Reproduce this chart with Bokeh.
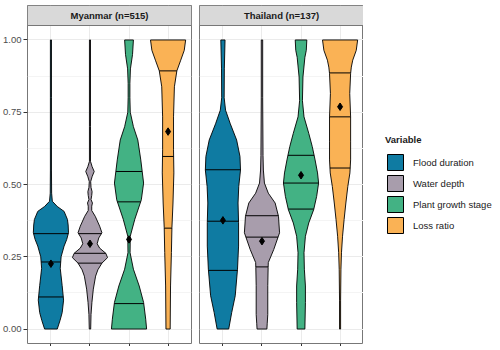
import numpy as np
from bokeh.plotting import figure
from bokeh.models import Range1d, FixedTicker, Legend, LegendItem, NumeralTickFormatter
from bokeh.layouts import row
from bokeh.core.properties import value
from bokeh.embed import file_html
from bokeh.resources import INLINE

# ---------------- data ----------------
variables = ["Flood duration", "Water depth", "Plant growth stage", "Loss ratio"]
colors = ["#0F7BA2", "#A89DAC", "#43B284", "#FAB255"]
facets = ["Myanmar (n=515)", "Thailand (n=137)"]
y_ticks = [0.0, 0.25, 0.5, 0.75, 1.0]
y_minor = [0.125, 0.375, 0.625, 0.875]

# Myanmar: violin density profiles (value level, relative width)
mya_flood_y = [0, .03, .057, .10, .15, .21, .25, .287, .31, .333, .36, .379, .407, .424, .442, .47, .55, .8, 1.0]
mya_flood_w = [.36, .52, .64, .72, .64, .53, .58, .75, .9, 1.0, .98, .94, .75, .36, .08, .04, .03, .03, .03]
mya_water_y = [0, .05, .092, .138, .183, .205, .228, .247, .262, .28, .295, .315, .333, .356, .39, .41, .425, .436,
               .448, .462, .475, .49, .51, .527, .545, .562, .58, .7, 1.0]
mya_water_w = [.04, .06, .11, .19, .32, .45, .68, 1.0, .9, .55, .41, .5, .68, .55, .3, .1, .1, .14,
               .06, .1, .12, .06, .04, .12, .24, .12, .03, .03, .03]
mya_plant_y = [0, .034, .092, .149, .207, .264, .321, .38, .447, .505, .545, .585, .654, .7, .75, .8, .85, .9, .95, 1.0]
mya_plant_w = [1.0, .95, .83, .58, .25, .06, .07, .33, .7, .83, .75, .67, .5, .25, .07, .05, .05, .08, .2, .25]
mya_loss_y = [0, .149, .265, .351, .436, .54, .62, .734, .838, .893, .93, .964, 1.0]
mya_loss_w = [.12, .14, .19, .22, .28, .33, .31, .31, .36, .5, .72, .92, 1.0]
mya_quantiles = [[0.111, 0.232, 0.330], [0.228, 0.262, 0.330], [0.088, 0.440, 0.545], [0.349, 0.597, 0.893]]
mya_means = [0.226, 0.295, 0.310, 0.683]

# Thailand
tha_flood_y = [0, .057, .115, .207, .287, .368, .436, .493, .55, .597, .654, .71, .757, .8, .9, 1.0]
tha_flood_w = [.33, .5, .7, .83, .89, .89, .86, .9, 1.0, .97, .78, .42, .15, .07, .08, .12]
tha_water_y = [0, .02, .05, .15, .213, .23, .275, .333, .39, .436, .47, .505, .55, .6, .8, 1.0]
tha_water_w = [.28, .3, .33, .33, .35, .36, .67, 1.0, .94, .75, .36, .14, .08, .06, .04, .04]
tha_plant_y = [0, .092, .149, .207, .264, .321, .367, .413, .459, .505, .54, .585, .631, .677, .734, .79, .872, .94, .964, 1.0]
tha_plant_w = [.22, .25, .25, .19, .17, .25, .44, .72, .89, 1.0, .94, .8, .64, .44, .17, .08, .11, .22, .3, .33]
tha_loss_y = [0, .1, .207, .264, .321, .379, .436, .493, .54, .585, .65, .734, .815, .884, .906, .93, .964, 1.0]
tha_loss_w = [.03, .03, .05, .08, .14, .23, .33, .44, .56, .6, .6, .6, .55, .6, .64, .72, .92, 1.0]
tha_quantiles = [[0.203, 0.373, 0.551], [0.215, 0.318, 0.392], [0.415, 0.505, 0.601], [0.557, 0.734, 0.886]]
tha_means = [0.376, 0.304, 0.532, 0.769]

mya_profiles = [(mya_flood_y, mya_flood_w), (mya_water_y, mya_water_w),
                (mya_plant_y, mya_plant_w), (mya_loss_y, mya_loss_w)]
tha_profiles = [(tha_flood_y, tha_flood_w), (tha_water_y, tha_water_w),
                (tha_plant_y, tha_plant_w), (tha_loss_y, tha_loss_w)]

# ---------------- styling ----------------
FONT = "Liberation Sans"
FS = "9.5px"
FRAME_W = 164
FRAME_H = 338
TOP = 5
STRIP_PX = 20
BORDER = "#777777"
HALF = 0.45


def make_panel(title, profiles, quantiles, means, show_y):
    panel_px = FRAME_H - STRIP_PX
    y_top = 1.05
    y_end = y_top + STRIP_PX * 1.1 / panel_px
    p = figure(frame_width=FRAME_W, frame_height=FRAME_H,
               x_range=Range1d(0.4, 4.6), y_range=Range1d(-0.05, y_end),
               output_backend="svg", toolbar_location=None, title=None,
               min_border_top=TOP, min_border_bottom=0,
               min_border_left=0 if show_y else 4, min_border_right=4 if show_y else 0)
    p.background_fill_color = "white"
    p.border_fill_color = "white"
    p.outline_line_color = BORDER
    p.outline_line_width = 1

    p.xgrid.ticker = FixedTicker(ticks=[1, 2, 3, 4])
    p.xgrid.grid_line_color = "#EBEBEB"
    p.ygrid.ticker = FixedTicker(ticks=y_ticks, minor_ticks=y_minor)
    p.ygrid.grid_line_color = "#EBEBEB"
    p.ygrid.minor_grid_line_color = "#F4F4F4"

    p.xaxis.ticker = FixedTicker(ticks=[1, 2, 3, 4])
    p.xaxis.major_label_text_font_size = "1px"
    p.xaxis.major_label_text_color = None
    p.xaxis.major_label_standoff = 0
    p.xaxis.major_tick_out = 3
    p.xaxis.major_tick_in = 0
    p.xaxis.minor_tick_line_color = None
    p.xaxis.axis_line_color = None
    p.xaxis.major_tick_line_color = "#333333"

    p.yaxis.ticker = FixedTicker(ticks=y_ticks)
    p.yaxis.formatter = NumeralTickFormatter(format="0.00")
    p.yaxis.major_label_text_font = FONT
    p.yaxis.major_label_text_font_size = FS
    p.yaxis.major_label_text_color = "#4D4D4D"
    p.yaxis.major_tick_out = 4
    p.yaxis.major_tick_in = 0
    p.yaxis.major_label_standoff = 2
    p.yaxis.minor_tick_line_color = None
    p.yaxis.axis_line_color = None
    p.yaxis.major_tick_line_color = "#333333"
    if not show_y:
        p.yaxis.visible = False

    # facet strip
    p.quad(left=[0.4], right=[4.6], bottom=[y_top], top=[y_end],
           fill_color="#D9D9D9", line_color=BORDER, line_width=1)
    p.text(x=[2.5], y=[(y_top + y_end) / 2], text=[title],
           text_align="center", text_baseline="middle",
           text_font=value(FONT), text_font_style="bold",
           text_font_size=value(FS), text_color="#1A1A1A")

    for i, (ys, ws) in enumerate(profiles):
        pos = i + 1
        ys = np.asarray(ys, dtype=float)
        wv = np.asarray(ws, dtype=float)
        hw = HALF * wv
        xs = np.concatenate([pos + hw, (pos - hw)[::-1]])
        yy = np.concatenate([ys, ys[::-1]])
        p.patch(xs, yy, fill_color=colors[i], line_color="black", line_width=0.9)
        qs = np.asarray(quantiles[i], dtype=float)
        qw = HALF * np.interp(qs, ys, wv)
        p.segment(x0=pos - qw, x1=pos + qw, y0=qs, y1=qs, line_color="black", line_width=1)
    p.scatter(x=[1, 2, 3, 4], y=means, marker="diamond", size=7.5,
              fill_color="black", line_color="black")
    return p


p1 = make_panel(facets[0], mya_profiles, mya_quantiles, mya_means, True)
p2 = make_panel(facets[1], tha_profiles, tha_quantiles, tha_means, False)

# legend panel
p3 = figure(frame_width=132, frame_height=FRAME_H, x_range=Range1d(0, 1), y_range=Range1d(0, 1),
            output_backend="svg", toolbar_location=None, title=None,
            x_axis_location=None, y_axis_location=None, min_border=0, min_border_top=TOP)
p3.outline_line_color = None
p3.background_fill_color = "white"
p3.border_fill_color = "white"
p3.grid.visible = False
items = []
for name, c in zip(variables, colors):
    # legend-key renderer placed outside the visible range
    r = p3.quad(left=[5], right=[6], top=[6], bottom=[5], fill_color=c, line_color="black", line_width=1)
    items.append(LegendItem(label=name, renderers=[r]))
legend = Legend(items=items, title="Variable", location=(22, 108),
                glyph_width=20, glyph_height=20, spacing=1, label_standoff=8,
                label_height=20, padding=0, margin=0,
                border_line_color=None, background_fill_alpha=0,
                label_text_font=FONT, label_text_font_size=FS, label_text_color="#1A1A1A",
                title_text_font=FONT, title_text_font_size=FS, title_text_font_style="bold",
                title_text_color="#1A1A1A", title_standoff=7)
p3.add_layout(legend)

layout = row(p1, p2, p3, spacing=0)
open("out.html", "w").write(file_html(layout, INLINE))
